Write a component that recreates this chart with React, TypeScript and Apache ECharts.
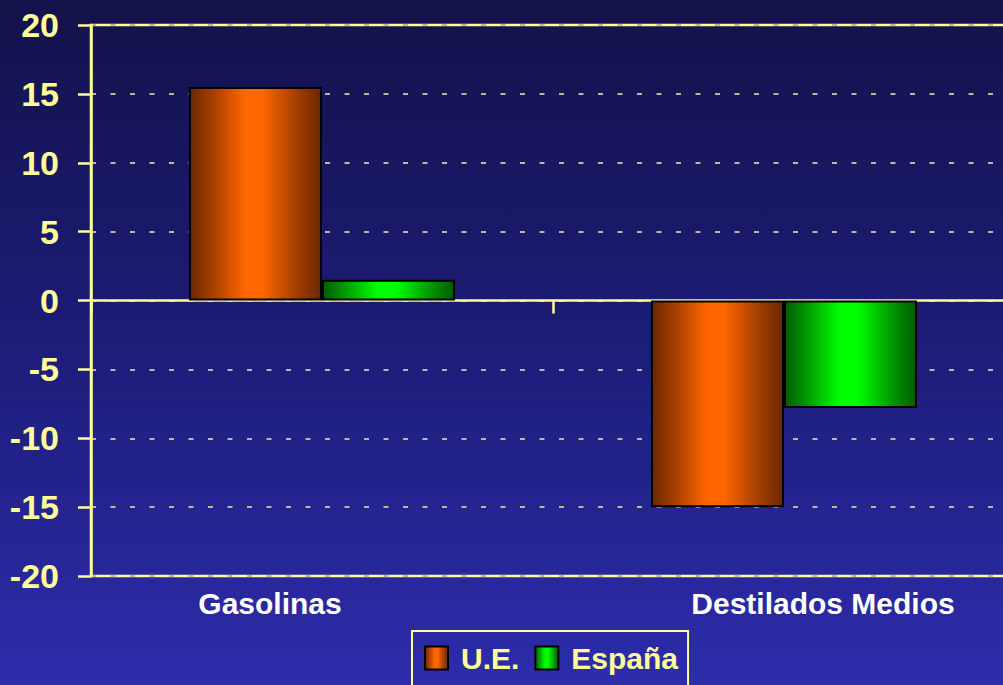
import React, { useEffect, useRef } from "react";
import * as echarts from "echarts";

const categories = ["Gasolinas", "Destilados Medios"];
const ueValues = [15.5, -15.0];
const espanaValues = [1.5, -7.8];
const seriesNames = ["U.E.", "España"];
const yMin = -20;
const yMax = 20;
const yInterval = 5;

const YELLOW = "#ffff99";
const FONT = "Liberation Sans, Arial, sans-serif";

function barGradient(dark: string, mid: string, bright: string) {
  return new echarts.graphic.LinearGradient(0, 0, 1, 0, [
    { offset: 0, color: dark },
    { offset: 0.18, color: mid },
    { offset: 0.42, color: bright },
    { offset: 0.55, color: bright },
    { offset: 0.8, color: mid },
    { offset: 1, color: dark },
  ]);
}

export default function App() {
  const ref = useRef<HTMLDivElement>(null);
  useEffect(() => {
    if (!ref.current) return;
    const chart = echarts.init(ref.current, undefined, { renderer: "svg" });
    const orange = barGradient("#6a2700", "#a84000", "#ff6600");
    const green = barGradient("#005a00", "#00a000", "#00ff00");
    chart.setOption({
      animation: false,
      textStyle: { fontFamily: FONT },
      grid: {
        left: 91,
        top: 25,
        bottom: 109,
        right: 0,
        show: true,
        borderColor: YELLOW,
        borderWidth: 2.5,
        backgroundColor: "transparent",
      },
      legend: {
        data: seriesNames,
        left: 412,
        top: 631,
        orient: "horizontal",
        icon: "rect",
        itemWidth: 23,
        itemHeight: 23,
        itemGap: 15,
        padding: [12, 10, 24, 12],
        borderColor: YELLOW,
        borderWidth: 2,
        itemStyle: { borderColor: "#000", borderWidth: 2 },
        textStyle: {
          color: YELLOW,
          fontSize: 30,
          fontWeight: "bold",
          fontFamily: FONT,
          padding: [0, 0, 0, 8],
        },
      },
      xAxis: [
        {
          type: "category",
          data: categories,
          position: "bottom",
          axisLine: { onZero: true, lineStyle: { color: YELLOW, width: 2.5 } },
          axisTick: { show: true, length: 13, lineStyle: { color: YELLOW, width: 2.5 } },
          axisLabel: { show: false },
          splitLine: { show: false },
        },
        {
          type: "category",
          data: categories,
          position: "bottom",
          axisLine: { show: false, onZero: false },
          axisTick: { show: false },
          splitLine: { show: false },
          axisLabel: {
            show: true,
            margin: 12,
            formatter: (v: string, i: number) => (i === 0 ? "{a|" + v + "}" : "{b|" + v + "}"),
            rich: {
              a: {
                color: "#ffffff",
                fontSize: 30,
                fontWeight: "bold",
                fontFamily: FONT,
                padding: [0, 104, 0, 0],
              },
              b: {
                color: "#ffffff",
                fontSize: 30,
                fontWeight: "bold",
                fontFamily: FONT,
                padding: [0, 0, 0, 78],
              },
            },
          },
        },
      ],
      yAxis: {
        type: "value",
        min: yMin,
        max: yMax,
        interval: yInterval,
        axisLine: { show: true, lineStyle: { color: YELLOW, width: 2.5 } },
        axisTick: { show: true, length: 13, lineStyle: { color: YELLOW, width: 2.5 } },
        axisLabel: {
          color: YELLOW,
          fontSize: 34,
          fontWeight: "bold",
          margin: 32,
          fontFamily: FONT,
        },
        splitLine: {
          show: true,
          lineStyle: { color: "#b8b8a4", width: 2, type: [5, 14.5] },
        },
      },
      series: [
        {
          name: seriesNames[0],
          type: "bar",
          xAxisIndex: 0,
          data: ueValues,
          barGap: "0%",
          barCategoryGap: "42.4%",
          itemStyle: { color: orange, borderColor: "#000", borderWidth: 2 },
        },
        {
          name: seriesNames[1],
          type: "bar",
          xAxisIndex: 0,
          data: espanaValues,
          barGap: "0%",
          barCategoryGap: "42.4%",
          itemStyle: { color: green, borderColor: "#000", borderWidth: 2 },
        },
      ],
    });
    return () => chart.dispose();
  }, []);
  return (
    <div
      style={{
        position: "fixed",
        left: 0,
        top: 0,
        width: 1003,
        height: 685,
        overflow: "hidden",
        background: "linear-gradient(to bottom, #13124a 0%, #1d1c78 50%, #2d2cab 100%)",
      }}
    >
      <div ref={ref} style={{ width: 1015, height: 685 }} />
    </div>
  );
}
